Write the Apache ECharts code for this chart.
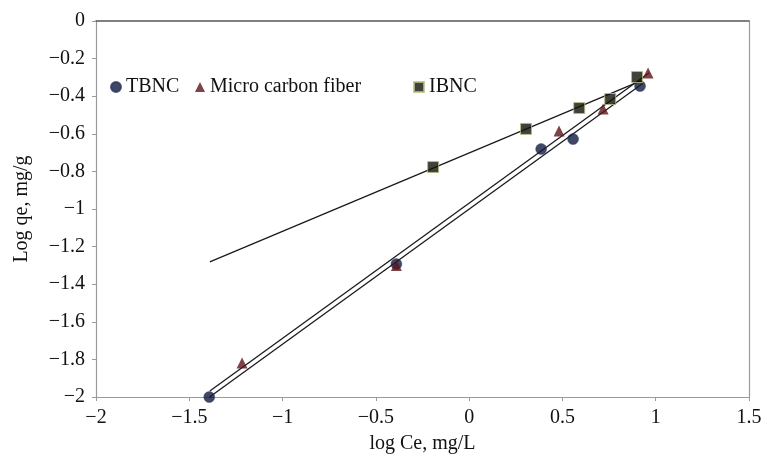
<!DOCTYPE html>
<html>
<head>
<meta charset="utf-8">
<script src="https://cdn.jsdelivr.net/npm/echarts@6/dist/echarts.min.js"></script>
<style>
  html, body { margin: 0; padding: 0; background: #fff; }
  #chart { width: 767px; height: 459px; }
</style>
</head>
<body>
<div id="chart"></div>
<script>
// Freundlich isotherm points: log Ce (x) vs log qe (y)
const tbncX = [-1.393, -0.39, 0.386, 0.557, 0.916];
const tbncY = [-2.0, -1.293, -0.681, -0.628, -0.346];

const microX = [-1.217, -0.39, 0.482, 0.718, 0.959];
const microY = [-1.819, -1.30, -0.585, -0.468, -0.277];

const ibncX = [-0.193, 0.305, 0.59, 0.756, 0.90];
const ibncY = [-0.777, -0.574, -0.463, -0.415, -0.298];

// linear trend line ranges (x start, x end)
const tbncFitRange = [-1.393, 0.93];
const microFitRange = [-1.39, 0.965];
const ibncFitRange = [-1.39, 0.92];

const FONT = 'Liberation Serif';

function pairs(xs, ys) { return xs.map((x, i) => [x, ys[i]]); }

// least-squares line through a series, evaluated at the range ends
function fitLine(xs, ys, range) {
  const n = xs.length;
  const mx = xs.reduce((a, b) => a + b, 0) / n;
  const my = ys.reduce((a, b) => a + b, 0) / n;
  let sxy = 0, sxx = 0;
  for (let i = 0; i < n; i++) {
    sxy += (xs[i] - mx) * (ys[i] - my);
    sxx += (xs[i] - mx) * (xs[i] - mx);
  }
  const k = sxy / sxx, b = my - k * mx;
  return range.map(x => [x, k * x + b]);
}

function minus(v) { return String(v).replace('-', '\u2212'); }

function trend(xs, ys, range) {
  return {
    type: 'line', data: fitLine(xs, ys, range), symbol: 'none',
    lineStyle: { color: '#1a1a1a', width: 1.3 }, silent: true, z: 1
  };
}

function legendAt(name, left) {
  return {
    data: [{ name: name, textStyle: { fontFamily: FONT, fontSize: 20, color: '#111' } }],
    left: left, top: 72,
    itemWidth: 10, itemHeight: 10, itemGap: 1,
    textStyle: { fontFamily: FONT, fontSize: 20, color: '#111' }
  };
}

const chart = echarts.init(document.getElementById('chart'));
chart.setOption({
  animation: false,
  backgroundColor: '#fff',
  textStyle: { fontFamily: FONT },
  grid: { left: 96, right: 18, top: 21, bottom: 62, containLabel: false },
  legend: [
    legendAt('TBNC', 105),
    legendAt('Micro carbon fiber', 190),
    legendAt('IBNC', 408)
  ],
  xAxis: [{
    type: 'value', min: -2, max: 1.5, interval: 0.5,
    name: 'log Ce, mg/L', nameLocation: 'middle', nameGap: 37,
    nameTextStyle: { fontFamily: FONT, fontSize: 20, color: '#111' },
    axisLine: { onZero: false, lineStyle: { color: '#9a9a9a', width: 1.2 } },
    axisTick: { show: true, length: 4, lineStyle: { color: '#9a9a9a' } },
    axisLabel: { fontFamily: FONT, fontSize: 20, color: '#111', margin: 11, formatter: minus },
    splitLine: { show: false }
  }, {
    type: 'value', position: 'top', min: -2, max: 1.5, interval: 0.5,
    axisLine: { show: true, onZero: false, lineStyle: { color: '#555', width: 1.5 } },
    axisTick: { show: false }, axisLabel: { show: false }, splitLine: { show: false }
  }],
  yAxis: [{
    type: 'value', min: -2, max: 0, interval: 0.2,
    name: 'Log qe, mg/g', nameLocation: 'middle', nameGap: 64,
    nameTextStyle: { fontFamily: FONT, fontSize: 20, color: '#111' },
    axisLine: { show: true, onZero: false, lineStyle: { color: '#9a9a9a', width: 1.2 } },
    axisTick: { show: true, length: 4, lineStyle: { color: '#9a9a9a' } },
    axisLabel: { fontFamily: FONT, fontSize: 20, color: '#111', margin: 11,
      formatter: v => minus(Math.round(v * 10) / 10) },
    splitLine: { show: false }
  }, {
    type: 'value', position: 'right', min: -2, max: 0, interval: 0.2,
    axisLine: { show: true, onZero: false, lineStyle: { color: '#9a9a9a', width: 1.2 } },
    axisTick: { show: false }, axisLabel: { show: false }, splitLine: { show: false }
  }],
  series: [
    trend(tbncX, tbncY, tbncFitRange),
    trend(microX, microY, microFitRange),
    trend(ibncX, ibncY, ibncFitRange),
    {
      name: 'TBNC', type: 'scatter', data: pairs(tbncX, tbncY),
      symbol: 'circle', symbolSize: 11, z: 3,
      itemStyle: { color: '#101a40', borderColor: '#2a3560', borderWidth: 0.5 }
    },
    {
      name: 'Micro carbon fiber', type: 'scatter', data: pairs(microX, microY),
      symbol: 'triangle', symbolSize: 11, z: 3,
      itemStyle: { color: '#5e1419' }
    },
    {
      name: 'IBNC', type: 'scatter', data: pairs(ibncX, ibncY),
      symbol: 'rect', symbolSize: 11, z: 4,
      itemStyle: { color: '#111309', borderColor: '#b9bf82', borderWidth: 1 }
    }
  ]
});
</script>
</body>
</html>
